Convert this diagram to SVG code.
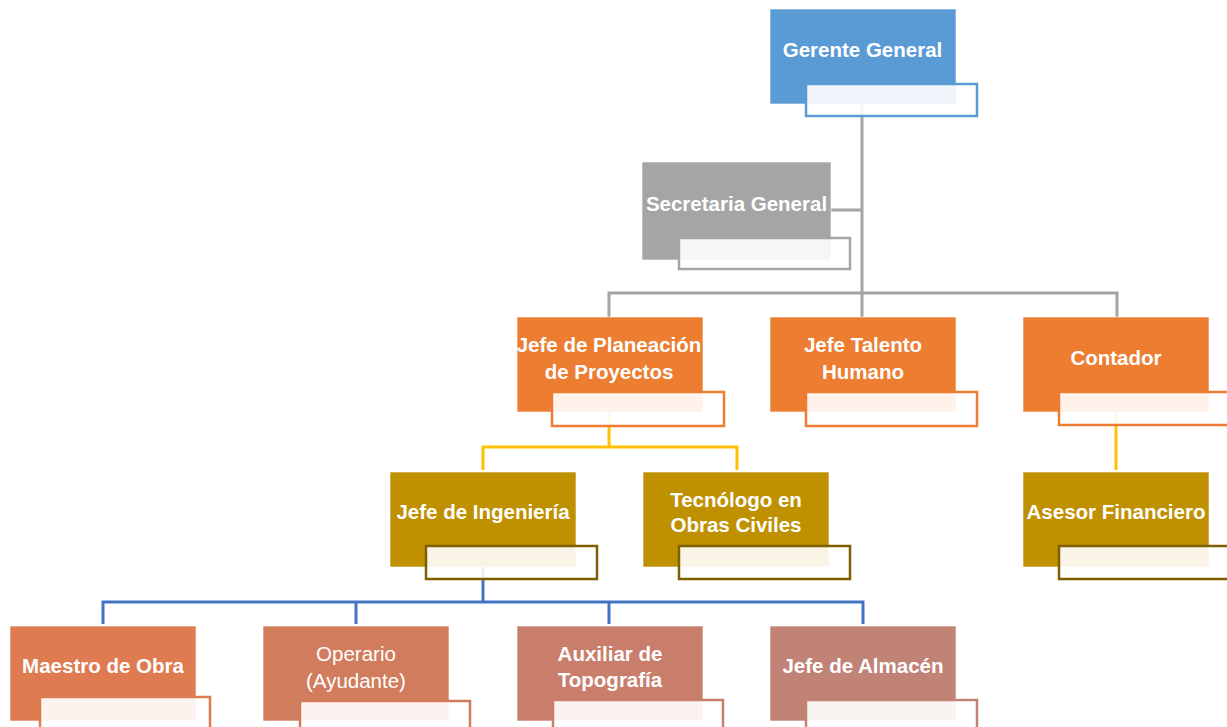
<svg xmlns="http://www.w3.org/2000/svg" width="1227" height="727" viewBox="0 0 1227 727">
<style>
.main{stroke:#ffffff;stroke-opacity:0.6;stroke-width:1}
.sub{fill:#ffffff;fill-opacity:0.9;stroke-width:2.5}
.t{font-family:"Liberation Sans",Arial,sans-serif;font-weight:bold;font-size:20.5px;fill:#ffffff;text-anchor:middle}
.r{font-weight:normal}
.cg{stroke:#a5a5a5;stroke-width:3;fill:none}
.cy{stroke:#ffc000;stroke-width:3;fill:none}
.cb{stroke:#4472c4;stroke-width:3;fill:none}
</style>
<rect width="1227" height="727" fill="#ffffff"/>
<g id="connectors">
<path class="cg" d="M862,104 V293 M831,210 H862 M609,317 V293 H1117 V317 M862,293 V317"/>
<path class="cy" d="M609,412 V447 M483,470 V447 H737 V470 M1116,413 V470"/>
<path class="cb" d="M483,567 V602 M103,624 V602 H863 V624 M356,602 V624 M609,602 V624"/>
</g>
<g id="gerente">
<rect class="main" x="770" y="9" width="186" height="95" fill="#5b9bd5"/>
<rect class="sub" x="806" y="84" width="171" height="32" stroke="#5b9bd5"/>
<text class="t" x="862.5" y="57">Gerente General</text>
</g>
<g id="secretaria">
<rect class="main" x="642" y="162" width="189" height="98" fill="#a5a5a5"/>
<rect class="sub" x="679" y="238" width="171" height="31" stroke="#a5a5a5"/>
<text class="t" x="736.5" y="211">Secretaria General</text>
</g>
<g id="planeacion">
<rect class="main" x="517" y="317" width="186" height="95" fill="#ed7d31"/>
<rect class="sub" x="552" y="392" width="172" height="34" stroke="#ed7d31"/>
<text class="t" x="609" y="352">Jefe de Planeación</text>
<text class="t" x="609" y="379">de Proyectos</text>
</g>
<g id="talento">
<rect class="main" x="770" y="317" width="186" height="95" fill="#ed7d31"/>
<rect class="sub" x="806" y="392" width="171" height="34" stroke="#ed7d31"/>
<text class="t" x="863" y="352">Jefe Talento</text>
<text class="t" x="863" y="379">Humano</text>
</g>
<g id="contador">
<rect class="main" x="1023" y="317" width="186" height="95" fill="#ed7d31"/>
<rect class="sub" x="1059" y="392" width="180" height="33" stroke="#ed7d31"/>
<text class="t" x="1116" y="365">Contador</text>
</g>
<g id="ingenieria">
<rect class="main" x="390" y="472" width="186" height="95" fill="#bf9000"/>
<rect class="sub" x="426" y="546" width="171" height="33" stroke="#7f6000"/>
<text class="t" x="483" y="519">Jefe de Ingeniería</text>
</g>
<g id="tecnologo">
<rect class="main" x="643" y="472" width="186" height="95" fill="#bf9000"/>
<rect class="sub" x="679" y="546" width="171" height="33" stroke="#7f6000"/>
<text class="t" x="736" y="507">Tecnólogo en</text>
<text class="t" x="736" y="532">Obras Civiles</text>
</g>
<g id="asesor">
<rect class="main" x="1023" y="472" width="186" height="95" fill="#bf9000"/>
<rect class="sub" x="1059" y="546" width="180" height="33" stroke="#7f6000"/>
<text class="t" x="1116" y="519">Asesor Financiero</text>
</g>
<g id="maestro">
<rect class="main" x="10" y="626" width="186" height="95" fill="#de7b51"/>
<rect class="sub" x="40" y="697" width="170" height="40" stroke="#de7b51"/>
<text class="t" x="103" y="673">Maestro de Obra</text>
</g>
<g id="operario">
<rect class="main" x="263" y="626" width="186" height="95" fill="#d27c5e"/>
<rect class="sub" x="300" y="701" width="170" height="40" stroke="#d27c5e"/>
<text class="t r" x="356" y="661">Operario</text>
<text class="t r" x="356" y="688">(Ayudante)</text>
</g>
<g id="auxiliar">
<rect class="main" x="517" y="626" width="186" height="95" fill="#c97e6b"/>
<rect class="sub" x="553" y="700" width="170" height="40" stroke="#c97e6b"/>
<text class="t" x="610" y="661">Auxiliar de</text>
<text class="t" x="610" y="687">Topografía</text>
</g>
<g id="almacen">
<rect class="main" x="770" y="626" width="186" height="95" fill="#c08376"/>
<rect class="sub" x="806" y="700" width="171" height="40" stroke="#c08376"/>
<text class="t" x="863" y="673">Jefe de Almacén</text>
</g>
</svg>
